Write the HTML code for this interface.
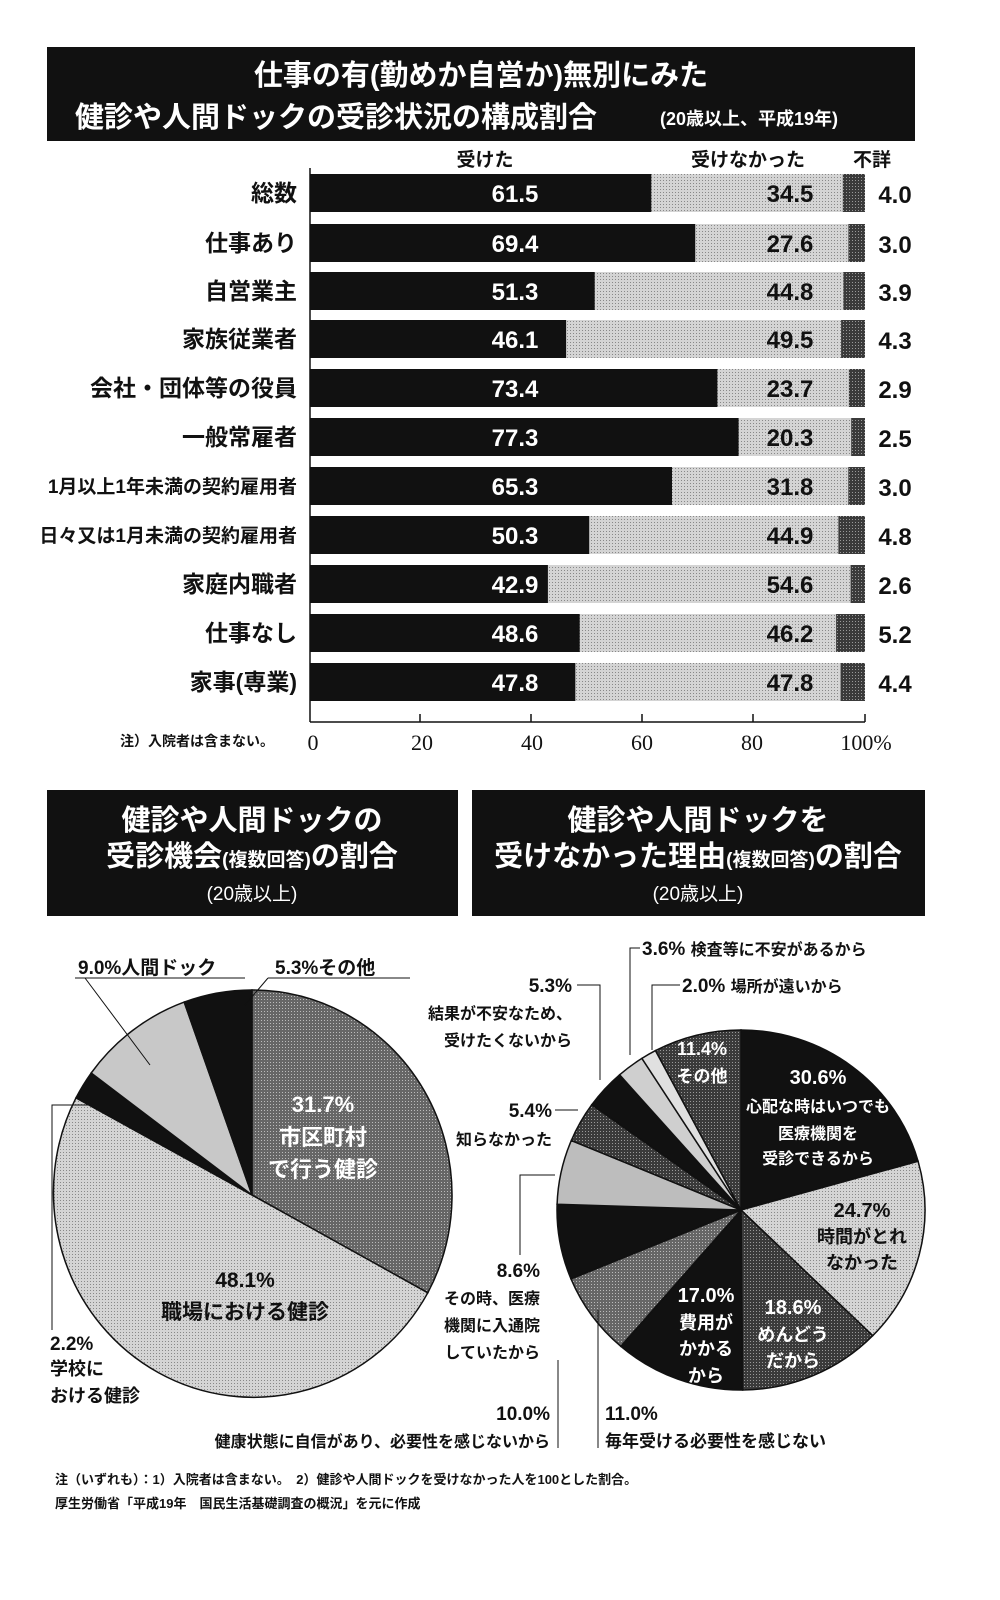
<!DOCTYPE html>
<html><head><meta charset="utf-8"><style>
html,body{margin:0;padding:0;background:#fff;}
svg{display:block;font-family:"Liberation Sans","Noto Sans CJK JP",sans-serif;}
</style></head><body>
<svg width="1000" height="1600" viewBox="0 0 1000 1600" xmlns="http://www.w3.org/2000/svg">
<defs>
<pattern id="dots" width="3" height="3" patternUnits="userSpaceOnUse"><rect width="3" height="3" fill="#d4d4d4"/><rect width="1" height="1" fill="#888"/></pattern>
<pattern id="dk" width="3" height="3" patternUnits="userSpaceOnUse"><rect width="3" height="3" fill="#3a3a3a"/><rect width="1" height="1" fill="#999"/></pattern>
<pattern id="md" width="3" height="3" patternUnits="userSpaceOnUse"><rect width="3" height="3" fill="#666"/><rect width="1" height="1" fill="#bbb"/></pattern>
</defs>
<rect width="1000" height="1600" fill="#fff"/>
<!-- Title -->
<rect x="47" y="47" width="868" height="94" fill="#111"/>
<text x="481" y="85" fill="#fff" font-size="29" font-weight="bold" text-anchor="middle">仕事の有(勤めか自営か)無別にみた</text>
<text x="75" y="127" fill="#fff" font-size="29" font-weight="bold">健診や人間ドックの受診状況の構成割合</text>
<text x="660" y="125" fill="#fff" font-size="18" font-weight="bold">(20歳以上、平成19年)</text>
<!-- headers -->
<g font-size="19" font-weight="bold" fill="#111">
<text x="485" y="166" text-anchor="middle">受けた</text>
<text x="748" y="166" text-anchor="middle">受けなかった</text>
<text x="872" y="166" text-anchor="middle">不詳</text>
</g>
<!-- labels -->
<g font-size="23" text-anchor="end" fill="#111" font-weight="bold">
<text x="297" y="201">総数</text>
<text x="297" y="251">仕事あり</text>
<text x="297" y="299">自営業主</text>
<text x="297" y="347">家族従業者</text>
<text x="297" y="396">会社・団体等の役員</text>
<text x="297" y="445">一般常雇者</text>
<text x="297" y="493" font-size="19">1月以上1年未満の契約雇用者</text>
<text x="297" y="542" font-size="19">日々又は1月未満の契約雇用者</text>
<text x="297" y="592">家庭内職者</text>
<text x="297" y="641">仕事なし</text>
<text x="297" y="690">家事(専業)</text>
</g>
<!-- bars -->
<g>
<rect x="310" y="174" width="555" height="38" fill="url(#dots)"/><rect x="310" y="174" width="341.3" height="38" fill="#111"/><rect x="842.8" y="174" width="22.2" height="38" fill="url(#dk)"/>
<rect x="310" y="224" width="555" height="38" fill="url(#dots)"/><rect x="310" y="224" width="385.2" height="38" fill="#111"/><rect x="848.4" y="224" width="16.6" height="38" fill="url(#dk)"/>
<rect x="310" y="272" width="555" height="38" fill="url(#dots)"/><rect x="310" y="272" width="284.7" height="38" fill="#111"/><rect x="843.3" y="272" width="21.7" height="38" fill="url(#dk)"/>
<rect x="310" y="320" width="555" height="38" fill="url(#dots)"/><rect x="310" y="320" width="256.1" height="38" fill="#111"/><rect x="841.1" y="320" width="23.9" height="38" fill="url(#dk)"/>
<rect x="310" y="369" width="555" height="38" fill="url(#dots)"/><rect x="310" y="369" width="407.4" height="38" fill="#111"/><rect x="848.9" y="369" width="16.1" height="38" fill="url(#dk)"/>
<rect x="310" y="418" width="555" height="38" fill="url(#dots)"/><rect x="310" y="418" width="428.6" height="38" fill="#111"/><rect x="851.2" y="418" width="13.8" height="38" fill="url(#dk)"/>
<rect x="310" y="467" width="555" height="38" fill="url(#dots)"/><rect x="310" y="467" width="362" height="38" fill="#111"/><rect x="848.3" y="467" width="16.7" height="38" fill="url(#dk)"/>
<rect x="310" y="516" width="555" height="38" fill="url(#dots)"/><rect x="310" y="516" width="279.2" height="38" fill="#111"/><rect x="838.4" y="516" width="26.6" height="38" fill="url(#dk)"/>
<rect x="310" y="565" width="555" height="38" fill="url(#dots)"/><rect x="310" y="565" width="237.9" height="38" fill="#111"/><rect x="850.6" y="565" width="14.4" height="38" fill="url(#dk)"/>
<rect x="310" y="614" width="555" height="38" fill="url(#dots)"/><rect x="310" y="614" width="269.7" height="38" fill="#111"/><rect x="836.1" y="614" width="28.9" height="38" fill="url(#dk)"/>
<rect x="310" y="663" width="555" height="38" fill="url(#dots)"/><rect x="310" y="663" width="265.3" height="38" fill="#111"/><rect x="840.6" y="663" width="24.4" height="38" fill="url(#dk)"/>
</g>
<g font-size="24" font-weight="bold" text-anchor="middle" fill="#fff">
<text x="515" y="202">61.5</text><text x="515" y="252">69.4</text><text x="515" y="300">51.3</text><text x="515" y="348">46.1</text><text x="515" y="397">73.4</text><text x="515" y="446">77.3</text><text x="515" y="495">65.3</text><text x="515" y="544">50.3</text><text x="515" y="593">42.9</text><text x="515" y="642">48.6</text><text x="515" y="691">47.8</text>
</g>
<g font-size="24" font-weight="bold" text-anchor="middle" fill="#111">
<text x="790" y="202">34.5</text><text x="790" y="252">27.6</text><text x="790" y="300">44.8</text><text x="790" y="348">49.5</text><text x="790" y="397">23.7</text><text x="790" y="446">20.3</text><text x="790" y="495">31.8</text><text x="790" y="544">44.9</text><text x="790" y="593">54.6</text><text x="790" y="642">46.2</text><text x="790" y="691">47.8</text>
<text x="895" y="203">4.0</text><text x="895" y="253">3.0</text><text x="895" y="301">3.9</text><text x="895" y="349">4.3</text><text x="895" y="398">2.9</text><text x="895" y="447">2.5</text><text x="895" y="496">3.0</text><text x="895" y="545">4.8</text><text x="895" y="594">2.6</text><text x="895" y="643">5.2</text><text x="895" y="692">4.4</text>
</g>
<g stroke="#111" stroke-width="1.5">
<line x1="310" y1="168" x2="310" y2="722"/>
<line x1="310" y1="722" x2="865" y2="722"/>
<line x1="420" y1="714" x2="420" y2="722"/>
<line x1="531" y1="714" x2="531" y2="722"/>
<line x1="642" y1="714" x2="642" y2="722"/>
<line x1="753" y1="714" x2="753" y2="722"/>
<line x1="865" y1="714" x2="865" y2="722"/>
</g>
<g font-family="Liberation Serif, serif" font-size="22" fill="#111" text-anchor="middle">
<text x="313" y="750">0</text><text x="422" y="750">20</text><text x="532" y="750">40</text><text x="642" y="750">60</text><text x="752" y="750">80</text><text x="866" y="750">100%</text>
</g>
<text x="120" y="746" font-size="14" font-weight="bold" fill="#111">注）入院者は含まない。</text>
<!-- Lower title boxes -->
<rect x="47" y="790" width="411" height="126" fill="#111"/>
<text x="252" y="830" fill="#fff" font-size="29" font-weight="bold" text-anchor="middle">健診や人間ドックの</text>
<text x="252" y="866" fill="#fff" font-size="29" font-weight="bold" text-anchor="middle">受診機会<tspan font-size="19">(複数回答)</tspan>の割合</text>
<text x="252" y="900" fill="#fff" font-size="19" text-anchor="middle">(20歳以上)</text>
<rect x="472" y="790" width="453" height="126" fill="#111"/>
<text x="698" y="830" fill="#fff" font-size="29" font-weight="bold" text-anchor="middle">健診や人間ドックを</text>
<text x="698" y="866" fill="#fff" font-size="29" font-weight="bold" text-anchor="middle">受けなかった理由<tspan font-size="19">(複数回答)</tspan>の割合</text>
<text x="698" y="900" fill="#fff" font-size="19" text-anchor="middle">(20歳以上)</text>
<!-- Left pie -->
<g stroke="#111" stroke-width="1.5">
<path d="M252,1195 L252,990 A200,205 0 0 1 427.8,1292.8 Z" fill="url(#md)"/>
<path d="M252,1195 L427.8,1292.8 A200,205 0 0 1 76,1097.8 Z" fill="url(#dots)"/>
<path d="M252,1195 L76,1097.8 A200,205 0 0 1 91.2,1073 Z" fill="#111"/>
<path d="M252,1195 L91.2,1073 A200,205 0 0 1 184.2,1002.1 Z" fill="#c8c8c8"/>
<path d="M252,1195 L184.2,1002.1 A200,205 0 0 1 252,990 Z" fill="#111"/>
<polyline points="75,978 245,978" fill="none" stroke-width="1"/>
<polyline points="85,978 150,1065" fill="none" stroke-width="1"/>
<polyline points="268,978 410,978" fill="none" stroke-width="1"/>
<polyline points="268,978 245,1005" fill="none" stroke-width="1"/>
<polyline points="95,1105 52,1105 52,1330" fill="none" stroke-width="1"/>
</g>
<g font-weight="bold" fill="#111">
<text x="78" y="974" font-size="19">9.0%人間ドック</text>
<text x="275" y="974" font-size="19">5.3%その他</text>
<text x="323" y="1112" font-size="22" fill="#fff" text-anchor="middle">31.7%</text>
<text x="323" y="1145" font-size="22" fill="#fff" text-anchor="middle">市区町村</text>
<text x="323" y="1177" font-size="22" fill="#fff" text-anchor="middle">で行う健診</text>
<text x="245" y="1287" font-size="21" text-anchor="middle">48.1%</text>
<text x="245" y="1319" font-size="21" text-anchor="middle">職場における健診</text>
<text x="50" y="1350" font-size="19">2.2%</text>
<text x="50" y="1375" font-size="18">学校に</text>
<text x="50" y="1402" font-size="18">おける健診</text>
</g>
<!-- Right pie -->
<g stroke="#111" stroke-width="1.5">
<path d="M741,1210 L741,1030 A184,180 0 0 1 918.1,1161.3 Z" fill="#111"/>
<path d="M741,1210 L918.1,1161.3 A184,180 0 0 1 872.7,1335.7 Z" fill="url(#dots)"/>
<path d="M741,1210 L872.7,1335.7 A184,180 0 0 1 742.6,1390 Z" fill="url(#dk)"/>
<path d="M741,1210 L742.6,1390 A184,180 0 0 1 620.8,1346.3 Z" fill="#111"/>
<path d="M741,1210 L620.8,1346.3 A184,180 0 0 1 571,1278.9 Z" fill="url(#md)"/>
<path d="M741,1210 L571,1278.9 A184,180 0 0 1 557.1,1204.3 Z" fill="#111"/>
<path d="M741,1210 L557.1,1204.3 A184,180 0 0 1 571.3,1140.5 Z" fill="#bdbdbd"/>
<path d="M741,1210 L571.3,1140.5 A184,180 0 0 1 591.8,1104.7 Z" fill="url(#dk)"/>
<path d="M741,1210 L591.8,1104.7 A184,180 0 0 1 619.6,1074.8 Z" fill="#111"/>
<path d="M741,1210 L619.6,1074.8 A184,180 0 0 1 641.9,1058.4 Z" fill="#cfcfcf"/>
<path d="M741,1210 L641.9,1058.4 A184,180 0 0 1 655.5,1050.6 Z" fill="#e0e0e0"/>
<path d="M741,1210 L655.5,1050.6 A184,180 0 0 1 741,1030 Z" fill="url(#dk)"/>
<g fill="none" stroke-width="1">
<polyline points="640,948 630,948 630,1055"/>
<polyline points="680,985 652,985 652,1050"/>
<polyline points="577,985 600,985 600,1080"/>
<polyline points="555,1110 578,1110"/>
<polyline points="555,1175 520,1175 520,1255"/>
<polyline points="558,1360 558,1448"/>
<polyline points="598,1310 598,1448"/>
</g>
</g>
<g font-weight="bold" fill="#111">
<text x="642" y="955" font-size="19">3.6% <tspan font-size="16">検査等に不安があるから</tspan></text>
<text x="682" y="992" font-size="19">2.0% <tspan font-size="16">場所が遠いから</tspan></text>
<text x="572" y="992" font-size="19" text-anchor="end">5.3%</text>
<text x="572" y="1019" font-size="16" text-anchor="end">結果が不安なため、</text>
<text x="572" y="1046" font-size="16" text-anchor="end">受けたくないから</text>
<text x="552" y="1117" font-size="19" text-anchor="end">5.4%</text>
<text x="552" y="1145" font-size="16" text-anchor="end">知らなかった</text>
<text x="540" y="1277" font-size="19" text-anchor="end">8.6%</text>
<text x="540" y="1304" font-size="16" text-anchor="end">その時、医療</text>
<text x="540" y="1331" font-size="16" text-anchor="end">機関に入通院</text>
<text x="540" y="1358" font-size="16" text-anchor="end">していたから</text>
<text x="550" y="1420" font-size="19" text-anchor="end">10.0%</text>
<text x="550" y="1447" font-size="16" text-anchor="end">健康状態に自信があり、必要性を感じないから</text>
<text x="605" y="1420" font-size="19">11.0%</text>
<text x="605" y="1447" font-size="17">毎年受ける必要性を感じない</text>
<g fill="#fff" text-anchor="middle">
<text x="702" y="1055" font-size="18">11.4%</text>
<text x="702" y="1082" font-size="17">その他</text>
<text x="818" y="1084" font-size="20">30.6%</text>
<text x="818" y="1112" font-size="16">心配な時はいつでも</text>
<text x="818" y="1139" font-size="16">医療機関を</text>
<text x="818" y="1164" font-size="16">受診できるから</text>
<text x="793" y="1314" font-size="20">18.6%</text>
<text x="793" y="1341" font-size="18">めんどう</text>
<text x="793" y="1367" font-size="18">だから</text>
<text x="706" y="1302" font-size="20">17.0%</text>
<text x="706" y="1329" font-size="18">費用が</text>
<text x="706" y="1355" font-size="18">かかる</text>
<text x="706" y="1382" font-size="18">から</text>
</g>
<text x="862" y="1217" font-size="20" text-anchor="middle">24.7%</text>
<text x="862" y="1243" font-size="18" text-anchor="middle">時間がとれ</text>
<text x="862" y="1269" font-size="18" text-anchor="middle">なかった</text>
</g>
<!-- footnotes -->
<text x="55" y="1484" font-size="13" font-weight="bold" fill="#111">注（いずれも）：1）入院者は含まない。　2）健診や人間ドックを受けなかった人を100とした割合。</text>
<text x="55" y="1508" font-size="13" font-weight="bold" fill="#111">厚生労働省「平成19年　国民生活基礎調査の概況」を元に作成</text>
</svg>
</body></html>
